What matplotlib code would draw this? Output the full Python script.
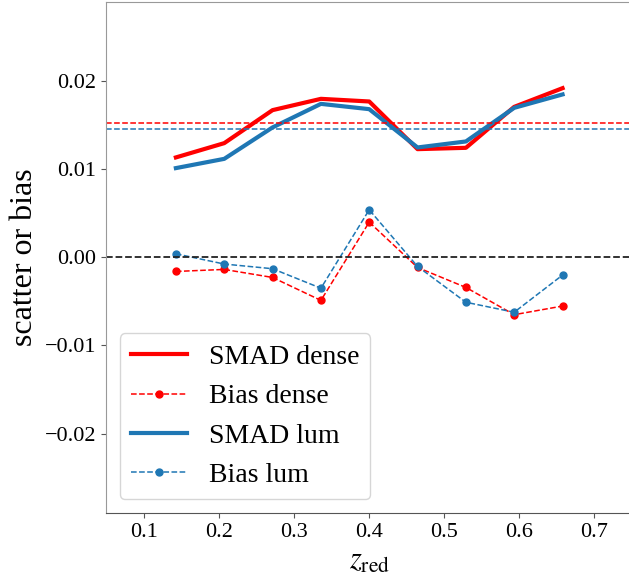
import matplotlib as mpl
import matplotlib.pyplot as plt
import numpy as np

mpl.rcParams.update(
    {
        "font.family": "serif",
        "font.serif": ["Liberation Serif", "DejaVu Serif"],
        "mathtext.fontset": "stix",
        "xtick.labelsize": 16,
        "ytick.labelsize": 16,
        "axes.unicode_minus": True,
    }
)

# redshift bin centres
z_bins = [0.1422, 0.2067, 0.2711, 0.3356, 0.4000, 0.4644, 0.5289, 0.5933, 0.6578]

smad_dense = [0.01129, 0.01291, 0.01665, 0.01793, 0.01763, 0.01223, 0.01238, 0.01702, 0.01914]
bias_dense = [-0.00163, -0.00140, -0.00231, -0.00491, 0.00396, -0.00118, -0.00344, -0.00653, -0.00555]
smad_lum = [0.01008, 0.01113, 0.01469, 0.01736, 0.01676, 0.01242, 0.01310, 0.01691, 0.01843]
bias_lum = [0.00037, -0.00079, -0.00132, -0.00353, 0.00536, -0.00106, -0.00512, -0.00625, -0.00204]

mean_smad_dense = 0.01522
mean_smad_lum = 0.01452

RED = "red"
BLUE = "#1f77b4"

fig = plt.figure(figsize=(6.29, 5.79), dpi=100)
ax = fig.add_axes([0.1685, 0.114, 0.837, 0.8825])

ax.plot(z_bins, smad_dense, color=RED, lw=3, label="SMAD dense")
ax.plot(z_bins, bias_dense, color=RED, lw=1.1, ls="--", marker="o", ms=5, label="Bias dense")
ax.plot(z_bins, smad_lum, color=BLUE, lw=3, label="SMAD lum")
ax.plot(z_bins, bias_lum, color=BLUE, lw=1.1, ls="--", marker="o", ms=5, label="Bias lum")

ax.axhline(mean_smad_dense, color=RED, lw=1.1, ls="--")
ax.axhline(mean_smad_lum, color=BLUE, lw=1.1, ls="--")
ax.axhline(0.0, color="#222222", lw=1.3, ls="--")

ax.set_xlim(0.049, 0.751)
ax.set_ylim(-0.029, 0.0289)
ax.set_xticks([0.1, 0.2, 0.3, 0.4, 0.5, 0.6, 0.7])
ax.set_yticks([-0.02, -0.01, 0.0, 0.01, 0.02])
ax.set_yticklabels(["\u22120.02", "\u22120.01", "0.00", "0.01", "0.02"])

for side in ["left", "top", "right"]:
    ax.spines[side].set_color("#999999")
ax.spines["bottom"].set_color("#555555")
ax.tick_params(colors="#555555", labelcolor="black")

ax.set_xlabel(r"$z_{\rm red}$", fontsize=22)
ax.set_ylabel("scatter or bias", fontsize=23)

ax.legend(loc="lower left", fontsize=20)

fig.savefig("out.png", dpi=100)
